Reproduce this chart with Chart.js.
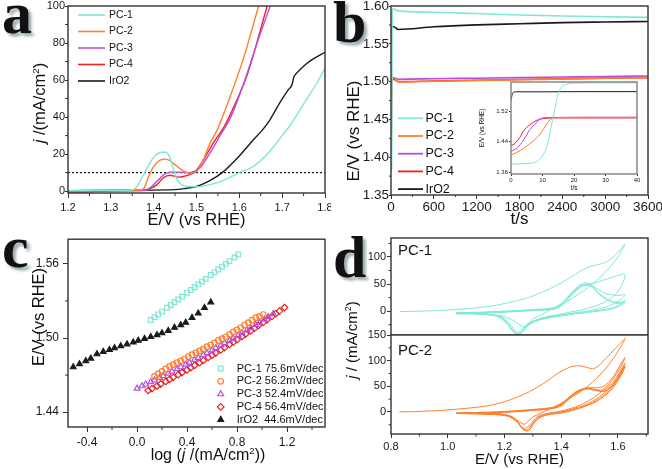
<!DOCTYPE html>
<html>
<head>
<meta charset="utf-8">
<title>OER catalysts: LSV, stability, Tafel and CV</title>
<script src="https://cdn.jsdelivr.net/npm/chart.js@4.4.1/dist/chart.umd.min.js"></script>
<style>
  body { margin: 0; background: #fff; }
  #fig { position: relative; width: 662px; height: 469px; overflow: hidden; font-family: 'Liberation Sans', Arial, sans-serif; color: #111; }
  #fig canvas { position: absolute; }
  .letter { position: absolute; font: bold 60px 'Liberation Serif', 'Times New Roman', serif; line-height: 1; color: #111; text-shadow: 3px 3px 3px rgba(110,130,140,.7); }
  .ytitle { position: absolute; white-space: nowrap; line-height: 1; transform: translate(-50%, -50%) rotate(-90deg); }
  .xtitle { position: absolute; white-space: nowrap; line-height: 1; transform: translate(-50%, -50%); }
  .tag { position: absolute; font-size: 15px; line-height: 1; }
  sup { font-size: 0.6em; vertical-align: 0.6em; line-height: 0; }
</style>
</head>
<body>
<div id="fig">
  <canvas id="chartA" width="331" height="234" style="left:0;top:0"></canvas>
  <canvas id="chartB" width="331" height="234" style="left:331px;top:0"></canvas>
  <canvas id="chartInset" width="164" height="118" style="left:478px;top:78px"></canvas>
  <canvas id="chartC" width="331" height="235" style="left:0;top:234px"></canvas>
  <canvas id="chartD1" width="331" height="101" style="left:331px;top:234px"></canvas>
  <canvas id="chartD2" width="331" height="144" style="left:331px;top:325px"></canvas>

  <div class="ytitle" style="left:39px;top:103px;font-size:16.5px"><i>j</i> /(mA/cm<sup>2</sup>)</div>
  <div class="ytitle" style="left:353px;top:131px;font-size:17px">E/V (vs RHE)</div>
  <div class="ytitle" style="left:38px;top:317px;font-size:16.5px">E/V (vs RHE)</div>
  <div class="xtitle" style="left:208px;top:455px;font-size:16px">log (<i>j</i> /(mA/cm<sup>2</sup>))</div>
  <div class="ytitle" style="left:351px;top:340px;font-size:15px"><i>j</i> / (mA/cm<sup>2</sup>)</div>
  <div class="tag" style="left:398px;top:242px">PC-1</div>
  <div class="tag" style="left:398px;top:342px">PC-2</div>

  <div class="letter" style="left:2px;top:-17px">a</div>
  <div class="letter" style="left:333px;top:-8px">b</div>
  <div class="letter" style="left:2px;top:217px">c</div>
  <div class="letter" style="left:333px;top:227px">d</div>
</div>
<script>
const FONT = "'Liberation Sans', Arial, sans-serif";
const CYAN = '#7de8d6', ORANGE = '#ff7f2a', PURPLE = '#b64ee0', RED = '#ee2222', BLACK = '#1a1a1a';
const names = ['PC-1', 'PC-2', 'PC-3', 'PC-4', 'IrO2'];
const colors = [CYAN, ORANGE, PURPLE, RED, BLACK];

// (a) polarization curves, [E / V vs RHE, j / mA cm-2]
const lsvPC1 = [[1.20,0.3],[1.30,0.4],[1.34,0.5],[1.356,1.2],[1.366,4.5],[1.376,8.7],[1.392,15.5],[1.405,19.5],[1.418,21],[1.428,21],[1.437,18.5],[1.445,13],[1.454,6.5],[1.466,3.4],[1.485,2.5],[1.50,2.4],[1.53,3.4],[1.56,5.5],[1.60,10],[1.63,13],[1.65,16.5],[1.68,24],[1.70,30],[1.72,36],[1.75,47],[1.78,58],[1.80,66.5]];
const lsvPC2 = [[1.20,0.2],[1.30,0.3],[1.36,0.5],[1.376,1.2],[1.388,7.8],[1.399,13],[1.415,16.7],[1.43,17.3],[1.446,15],[1.466,11.4],[1.485,9.6],[1.50,10.5],[1.516,17],[1.53,25],[1.55,34],[1.58,52],[1.61,72],[1.645,100]];
const lsvPC3 = [[1.20,0.2],[1.30,0.3],[1.38,0.5],[1.39,1.5],[1.407,5.2],[1.423,8.7],[1.438,10.3],[1.46,10.2],[1.48,10],[1.493,10.5],[1.508,12.5],[1.53,20],[1.555,30],[1.58,40],[1.61,58],[1.64,79],[1.672,100]];
const lsvPC4 = [[1.20,-0.5],[1.25,-0.4],[1.30,0.2],[1.38,0.4],[1.39,1.2],[1.407,3.4],[1.423,7.3],[1.438,8.6],[1.458,7.6],[1.477,8.4],[1.497,10.5],[1.516,16.7],[1.539,26],[1.565,35],[1.59,47],[1.62,64],[1.665,100]];
const lsvIrO2 = [[1.20,0.3],[1.35,0.5],[1.45,0.8],[1.477,1.6],[1.50,2.5],[1.53,5.5],[1.56,10],[1.60,19],[1.63,27],[1.65,32],[1.67,38],[1.695,48],[1.715,55],[1.722,57],[1.728,62],[1.735,64],[1.75,67.5],[1.77,71],[1.80,75]];
const lsvSeries = [lsvPC1, lsvPC2, lsvPC3, lsvPC4, lsvIrO2];
const lsvRange = [1.2, 1.8];
const lsvLevel = 10;

// (b) chronopotentiometry, [t / s, E / V vs RHE]; first 40 s (also the inset) and the long run
const cpStartPC1 = [[0,1.381],[3,1.382],[7,1.384],[9.2,1.395],[10.8,1.415],[11.8,1.44],[12.9,1.485],[14,1.531],[15,1.567],[16.1,1.585],[17.7,1.592],[21,1.595],[30,1.596],[40,1.596]];
const cpStartPC2 = [[0,1.405],[3,1.417],[5,1.429],[7,1.442],[9,1.458],[10.5,1.476],[12,1.495],[13,1.501],[15,1.504],[20,1.5045],[30,1.5045],[40,1.5045]];
const cpStartPC3 = [[0,1.415],[2,1.424],[4,1.445],[6,1.472],[8,1.49],[9,1.499],[11,1.504],[15,1.5045],[25,1.505],[40,1.505]];
const cpStartPC4 = [[0,1.431],[1,1.434],[3,1.454],[4,1.469],[6,1.485],[8,1.496],[10,1.501],[15,1.503],[25,1.503],[40,1.503]];
const cpStartIrO2 = [[0,1.55],[0.5,1.568],[1.5,1.572],[10,1.572],[20,1.5725],[40,1.5725]];
const cpLongPC1 = [[100,1.5935],[600,1.5918],[1200,1.590],[1800,1.588],[2400,1.5868],[3000,1.5858],[3600,1.585]];
const cpLongPC2 = [[100,1.4995],[600,1.5005],[1200,1.5015],[1800,1.5025],[2400,1.5035],[3000,1.5045],[3600,1.5052]];
const cpLongPC3 = [[100,1.5032],[600,1.5038],[1200,1.5045],[1800,1.5052],[2400,1.506],[3000,1.5068],[3600,1.5074]];
const cpLongPC4 = [[100,1.5],[600,1.5008],[1200,1.5018],[1800,1.5028],[2400,1.5037],[3000,1.5046],[3600,1.5053]];
const cpLongIrO2 = [[100,1.569],[600,1.5725],[1200,1.575],[1800,1.5765],[2400,1.578],[3000,1.5788],[3600,1.5795]];
const cpStart = [cpStartPC1, cpStartPC2, cpStartPC3, cpStartPC4, cpStartIrO2];
const cpLong = [cpLongPC1, cpLongPC2, cpLongPC3, cpLongPC4, cpLongIrO2];

// (c) Tafel plots, [log j, E / V vs RHE]
const tafelLabels = ['PC-1 75.6mV/dec', 'PC-2 56.2mV/dec', 'PC-3 52.4mV/dec', 'PC-4 56.4mV/dec', 'IrO2  44.6mV/dec'];
const tafelPC1 = [[0.11,1.5146],[0.14,1.5169],[0.17,1.5192],[0.20,1.5214],[0.24,1.5245],[0.27,1.5267],[0.30,1.5290],[0.33,1.5313],[0.36,1.5335],[0.40,1.5366],[0.43,1.5389],[0.46,1.5411],[0.49,1.5434],[0.52,1.5457],[0.55,1.5479],[0.59,1.5510],[0.62,1.5532],[0.65,1.5555],[0.68,1.5578],[0.71,1.5600],[0.74,1.5623],[0.78,1.5653],[0.81,1.5676]];
const tafelPC2 = [[0.14,1.469],[0.17,1.471],[0.20,1.473],[0.23,1.475],[0.26,1.477],[0.29,1.4785],[0.32,1.480],[0.35,1.4815],[0.38,1.483],[0.41,1.485],[0.44,1.4865],[0.47,1.488],[0.50,1.4895],[0.53,1.491],[0.56,1.493],[0.59,1.4945],[0.62,1.496],[0.65,1.498],[0.68,1.4995],[0.71,1.501],[0.74,1.503],[0.77,1.505],[0.80,1.5065],[0.83,1.5085],[0.86,1.5105],[0.89,1.5125],[0.92,1.5145],[0.95,1.5165],[0.98,1.5175],[1.01,1.519]];
const tafelPC3 = [[0.00,1.4592],[0.04,1.4611],[0.07,1.4625],[0.11,1.4644],[0.14,1.4659],[0.18,1.4679],[0.21,1.4694],[0.25,1.4714],[0.28,1.4729],[0.32,1.4750],[0.35,1.4765],[0.39,1.4786],[0.42,1.4802],[0.46,1.4824],[0.49,1.4840],[0.53,1.4862],[0.56,1.4878],[0.60,1.4901],[0.63,1.4918],[0.67,1.4941],[0.70,1.4958],[0.74,1.4981],[0.77,1.4998],[0.81,1.5022],[0.84,1.5040],[0.88,1.5064],[0.91,1.5082],[0.95,1.5107],[0.98,1.5125],[1.02,1.5151],[1.05,1.5170],[1.09,1.5195]];
const tafelPC4 = [[0.09,1.4576],[0.12,1.4591],[0.16,1.4612],[0.19,1.4628],[0.23,1.4649],[0.26,1.4665],[0.29,1.4682],[0.33,1.4704],[0.36,1.4721],[0.40,1.4743],[0.43,1.4760],[0.46,1.4778],[0.50,1.4801],[0.53,1.4819],[0.57,1.4843],[0.60,1.4861],[0.63,1.4879],[0.67,1.4904],[0.70,1.4923],[0.74,1.4948],[0.77,1.4967],[0.80,1.4987],[0.84,1.5013],[0.87,1.5033],[0.91,1.5059],[0.94,1.5080],[0.97,1.5100],[1.01,1.5127],[1.04,1.5148],[1.08,1.5176],[1.11,1.5197],[1.14,1.5218],[1.18,1.5247]];
const tafelIrO2 = [[-0.51,1.4765],[-0.46,1.4790],[-0.41,1.4815],[-0.37,1.4835],[-0.32,1.4870],[-0.27,1.4890],[-0.22,1.4905],[-0.18,1.4920],[-0.13,1.4935],[-0.08,1.4950],[-0.03,1.4965],[0.01,1.4980],[0.06,1.4995],[0.11,1.5010],[0.16,1.5025],[0.20,1.5040],[0.25,1.5060],[0.30,1.5085],[0.35,1.5105],[0.39,1.5125],[0.44,1.5165],[0.49,1.5200],[0.54,1.5245],[0.59,1.5290]];
const tafelSeries = [tafelPC1, tafelPC2, tafelPC3, tafelPC4, tafelIrO2];
const tafelMarkers = ['rect', 'circle', 'triangle', 'rectRot', 'triangle'];

// (d) cyclic voltammograms, [E / V vs RHE, j / mA cm-2]
const cvPC1 = [
  [[0.83,-1],[0.9,0],[1.0,2],[1.1,6],[1.15,9],[1.2,14],[1.25,20],[1.3,28],[1.35,39],[1.4,52],[1.45,68],[1.49,80],[1.53,86],[1.56,91],[1.59,103],[1.625,124],[1.6,100],[1.57,80],[1.54,64],[1.51,50],[1.48,38],[1.44,24],[1.4,12],[1.36,2],[1.33,-7],[1.3,-14],[1.28,-26],[1.27,-29],[1.25,-24],[1.22,-14],[1.18,-8],[1.1,-5],[1.03,-4]],
  [[1.03,-3],[1.1,-2],[1.2,0],[1.3,3],[1.37,6],[1.4,14],[1.43,30],[1.46,44],[1.48,48],[1.5,50],[1.53,54],[1.56,59],[1.59,64],[1.625,68],[1.61,45],[1.59,30],[1.55,16],[1.5,6],[1.45,0],[1.4,-5],[1.35,-10],[1.31,-16],[1.28,-24],[1.26,-34],[1.245,-40],[1.23,-36],[1.21,-22],[1.18,-10],[1.14,-6],[1.08,-4],[1.03,-4]],
  [[1.03,-4],[1.1,-3],[1.2,-1],[1.3,2],[1.37,5],[1.4,13],[1.43,30],[1.46,46],[1.48,52],[1.5,50],[1.53,40],[1.56,32],[1.6,29],[1.625,30],[1.6,18],[1.56,8],[1.5,1],[1.45,-3],[1.4,-7],[1.35,-12],[1.31,-17],[1.28,-26],[1.26,-37],[1.245,-43],[1.23,-38],[1.21,-24],[1.18,-11],[1.14,-6],[1.08,-4],[1.03,-4]],
  [[1.03,-4],[1.1,-3],[1.2,-1],[1.3,2],[1.38,5],[1.41,16],[1.44,33],[1.47,47],[1.49,50],[1.51,45],[1.54,30],[1.57,20],[1.6,16],[1.625,19],[1.6,10],[1.56,4],[1.5,-1],[1.45,-4],[1.4,-8],[1.35,-12],[1.31,-18],[1.28,-27],[1.265,-36],[1.25,-42],[1.235,-38],[1.215,-25],[1.19,-12],[1.15,-6],[1.08,-4],[1.03,-4]],
  [[1.03,-5],[1.1,-4],[1.2,-2],[1.3,1],[1.38,4],[1.41,14],[1.44,31],[1.47,45],[1.49,48],[1.51,44],[1.54,28],[1.57,19],[1.6,14],[1.625,16],[1.6,8],[1.56,2],[1.5,-2],[1.45,-5],[1.4,-9],[1.35,-13],[1.31,-19],[1.28,-28],[1.27,-36],[1.255,-41],[1.24,-37],[1.22,-24],[1.19,-11],[1.15,-7],[1.08,-5],[1.03,-5]]
];
const cvPC2 = [
  [[0.83,0],[0.9,1],[1.0,4],[1.1,9],[1.15,13],[1.2,20],[1.25,30],[1.3,43],[1.35,60],[1.39,76],[1.43,87],[1.46,90],[1.49,87],[1.51,84],[1.53,89],[1.56,106],[1.59,123],[1.625,143],[1.6,118],[1.57,94],[1.54,74],[1.51,58],[1.48,44],[1.44,30],[1.4,17],[1.36,6],[1.33,-2],[1.3,-10],[1.28,-20],[1.27,-24],[1.25,-18],[1.22,-8],[1.18,-4],[1.1,-3],[1.03,-2]],
  [[1.03,-2],[1.1,-1],[1.2,1],[1.3,5],[1.37,9],[1.4,16],[1.43,30],[1.46,42],[1.49,47],[1.52,47],[1.55,50],[1.58,66],[1.6,84],[1.625,106],[1.61,88],[1.58,62],[1.55,44],[1.52,30],[1.48,17],[1.44,8],[1.4,2],[1.35,-3],[1.32,-8],[1.3,-18],[1.285,-28],[1.27,-32],[1.255,-26],[1.235,-12],[1.2,-5],[1.12,-3],[1.03,-3]],
  [[1.03,-3],[1.1,-2],[1.2,0],[1.3,4],[1.37,8],[1.4,15],[1.43,29],[1.46,41],[1.49,46],[1.52,44],[1.55,43],[1.58,56],[1.6,72],[1.625,95],[1.61,78],[1.58,52],[1.55,36],[1.52,24],[1.48,13],[1.44,6],[1.4,0],[1.35,-4],[1.32,-10],[1.3,-22],[1.285,-32],[1.275,-35],[1.26,-30],[1.24,-15],[1.2,-6],[1.12,-3],[1.03,-3]],
  [[1.03,-3],[1.1,-2],[1.2,0],[1.3,3],[1.37,7],[1.4,13],[1.43,27],[1.46,40],[1.49,45],[1.52,42],[1.55,40],[1.58,52],[1.6,68],[1.625,90],[1.61,74],[1.58,48],[1.55,32],[1.52,21],[1.48,11],[1.44,4],[1.4,-1],[1.35,-5],[1.32,-12],[1.3,-24],[1.29,-33],[1.28,-37],[1.265,-33],[1.245,-18],[1.21,-7],[1.12,-4],[1.03,-3]],
  [[1.03,-3],[1.1,-2],[1.2,-1],[1.3,3],[1.37,7],[1.4,12],[1.43,26],[1.46,39],[1.49,45],[1.52,43],[1.55,40],[1.58,50],[1.6,64],[1.625,88],[1.61,70],[1.58,45],[1.55,30],[1.52,19],[1.48,10],[1.44,3],[1.4,-2],[1.35,-6],[1.32,-13],[1.3,-25],[1.29,-34],[1.28,-37],[1.265,-34],[1.245,-20],[1.21,-8],[1.12,-4],[1.03,-3]]
];

function xy(points) {
  return points.map(p => ({ x: p[0], y: p[1] }));
}

// box frame, optional white fill and short minor ticks between the major ones
const framePlugin = {
  id: 'frame',
  beforeDatasetsDraw(chart, args, opts) {
    if (!opts.fill) return;
    const a = chart.chartArea;
    chart.ctx.save();
    chart.ctx.fillStyle = opts.fill;
    chart.ctx.fillRect(a.left, a.top, a.right - a.left, a.bottom - a.top);
    chart.ctx.restore();
  },
  afterDraw(chart, args, opts) {
    const { ctx, chartArea: a } = chart;
    ctx.save();
    ctx.strokeStyle = opts.color || '#333';
    ctx.lineWidth = opts.width || 1.4;
    ctx.strokeRect(a.left, a.top, a.right - a.left, a.bottom - a.top);
    if (opts.minor) {
      ctx.lineWidth = 1;
      ctx.beginPath();
      ['x', 'y'].forEach(id => {
        const s = chart.scales[id];
        if (!s || !s.options.display || s.ticks.length < 2) return;
        const vals = s.ticks.map(t => t.value);
        const half = (vals[1] - vals[0]) / 2;
        const mids = [vals[0] - half].concat(vals.map(v => v + half));
        mids.forEach(v => {
          if (v < s.min || v > s.max) return;
          const p = s.getPixelForValue(v);
          if (id === 'x') { ctx.moveTo(p, a.bottom); ctx.lineTo(p, a.bottom + opts.minor); }
          else { ctx.moveTo(a.left, p); ctx.lineTo(a.left - opts.minor, p); }
        });
      });
      ctx.stroke();
    }
    ctx.restore();
  }
};

// legend drawn inside the plot area
const keyPlugin = {
  id: 'key',
  afterDraw(chart, args, o) {
    if (!o.show) return;
    const { ctx, chartArea: a } = chart;
    ctx.save();
    ctx.font = o.font;
    ctx.textBaseline = 'middle';
    let row = 0;
    chart.data.datasets.forEach(ds => {
      if (!ds.label) return;
      const x = a.left + o.x;
      const y = a.top + o.y + row * o.row;
      row++;
      if (o.marker) {
        ctx.strokeStyle = ds.borderColor;
        ctx.fillStyle = ds.pointBackgroundColor;
        ctx.lineWidth = ds.pointBorderWidth;
        Chart.helpers.drawPoint(ctx, { pointStyle: ds.pointStyle, radius: ds.pointRadius, rotation: 0, borderWidth: ds.pointBorderWidth }, x, y);
        ctx.fillStyle = '#111';
        ctx.fillText(ds.label, x + o.gap, y);
      } else {
        ctx.strokeStyle = ds.borderColor;
        ctx.lineWidth = ds.borderWidth + 0.2;
        ctx.beginPath();
        ctx.moveTo(x, y);
        ctx.lineTo(x + o.len, y);
        ctx.stroke();
        ctx.fillStyle = '#111';
        ctx.fillText(ds.label, x + o.len + o.gap, y);
      }
    });
    ctx.restore();
  }
};

function axis(o) {
  return {
    type: 'linear',
    display: o.display !== false,
    min: o.min,
    max: o.max,
    ticks: {
      stepSize: o.step,
      includeBounds: false,
      autoSkip: false,
      maxRotation: 0,
      padding: o.pad,
      color: '#1a1a1a',
      font: { family: FONT, size: o.font },
      callback: v => v.toFixed(o.dec)
    },
    grid: { drawOnChartArea: false, drawTicks: true, tickLength: o.tick, tickColor: '#333', tickWidth: 1 },
    border: { display: false },
    title: o.title
      ? { display: true, text: o.title, color: '#111', font: { family: FONT, size: o.tfont }, padding: { top: 0, bottom: o.tpad } }
      : { display: false },
    afterFit(s) {
      if (s.isHorizontal()) s.height = o.size; else s.width = o.size;
      s.paddingLeft = 0; s.paddingRight = 0; s.paddingTop = 0; s.paddingBottom = 0;
    }
  };
}

function build(id, cfg) {
  return new Chart(document.getElementById(id), {
    type: 'scatter',
    data: { datasets: cfg.datasets },
    options: {
      responsive: false,
      animation: false,
      events: [],
      layout: { padding: cfg.padding },
      scales: { x: axis(cfg.x), y: axis(cfg.y) },
      plugins: {
        legend: { display: false },
        tooltip: { enabled: false },
        frame: cfg.frame || {},
        key: cfg.key || { show: false }
      }
    },
    plugins: [framePlugin, keyPlugin]
  });
}

// smooth curve through points whose x only grows
function trace(points, color, width, label) {
  return { label: label, data: xy(points), showLine: true, borderColor: color, borderWidth: width, pointRadius: 0, cubicInterpolationMode: 'monotone' };
}

// closed voltammetric loop (x goes back and forth)
function loop(points, color) {
  return { data: xy(points), showLine: true, borderColor: color, borderWidth: 1, pointRadius: 0, tension: 0.3 };
}

// (a)
const lsvSets = lsvSeries.map((pts, i) => trace(pts, colors[i], 1.4, names[i]));
lsvSets.push({ data: xy([[lsvRange[0], lsvLevel], [lsvRange[1], lsvLevel]]), showLine: true, borderColor: '#111', borderWidth: 1.2, borderDash: [2, 2], pointRadius: 0 });
build('chartA', {
  datasets: lsvSets,
  padding: { left: 0, top: 6, right: 6, bottom: 0 },
  x: { min: lsvRange[0], max: lsvRange[1], step: 0.1, dec: 1, font: 11, size: 41, tick: 5, pad: 3, title: 'E/V (vs RHE)', tfont: 16.5, tpad: 4 },
  y: { min: -1, max: 100, step: 20, dec: 0, font: 11, size: 68, tick: 3, pad: 0 },
  frame: { minor: 3 },
  key: { show: true, x: 10, y: 9, row: 16.5, len: 27, gap: 4, font: '10.5px ' + FONT }
});

// (b)
build('chartB', {
  datasets: cpStart.map((pts, i) => trace(pts.concat(cpLong[i]), colors[i], 1.6, names[i])),
  padding: { left: 0, top: 6, right: 14, bottom: 0 },
  x: { min: 0, max: 3600, step: 600, dec: 0, font: 13.5, size: 39, tick: 4, pad: 0, title: 't/s', tfont: 17, tpad: 4 },
  y: { min: 1.35, max: 1.6, step: 0.05, dec: 2, font: 13.5, size: 60, tick: 2, pad: 0 },
  frame: { minor: 2 },
  key: { show: true, x: 7, y: 112.3, row: 17.7, len: 25, gap: 2.5, font: '12.5px ' + FONT }
});

build('chartInset', {
  datasets: cpStart.map((pts, i) => trace(pts, colors[i], 1)),
  padding: { left: 0, top: 4, right: 5, bottom: 0 },
  x: { min: 0, max: 40, step: 10, dec: 0, font: 6, size: 22, tick: 2, pad: 1, title: 't/s', tfont: 6.5, tpad: 4 },
  y: { min: 1.355, max: 1.598, step: 0.08, dec: 2, font: 6, size: 33, tick: 2, pad: 1, title: 'E/V (vs RHE)', tfont: 6.5, tpad: 1 },
  frame: { fill: '#fff', color: '#888', width: 1.5 }
});

// (c)
build('chartC', {
  datasets: tafelSeries.map((pts, i) => ({
    label: tafelLabels[i],
    data: xy(pts),
    showLine: false,
    pointStyle: tafelMarkers[i],
    pointRadius: i === 1 ? 2.8 : 3.3,
    pointBorderWidth: 1.2,
    borderColor: colors[i],
    backgroundColor: colors[i],
    pointBackgroundColor: i === 4 ? BLACK : 'rgba(0,0,0,0)'
  })),
  padding: { left: 0, top: 4, right: 6, bottom: 0 },
  x: { min: -0.552, max: 1.504, step: 0.4, dec: 1, font: 12, size: 42, tick: 5, pad: 3 },
  y: { min: 1.428, max: 1.58, step: 0.06, dec: 2, font: 12, size: 68, tick: 5, pad: 4 },
  frame: { minor: 3 },
  key: { show: true, marker: true, x: 152.7, y: 129.3, row: 12.8, gap: 16, font: '11px ' + FONT }
});

// (d)
build('chartD1', {
  datasets: cvPC1.map(pts => loop(pts, CYAN)),
  padding: { left: 0, top: 4, right: 14, bottom: 0 },
  x: { display: false, min: 0.8, max: 1.706, step: 0.2, dec: 1, font: 11, size: 0, tick: 4, pad: 2 },
  y: { min: -44, max: 135, step: 50, dec: 0, font: 11, size: 60, tick: 4, pad: 1 },
  frame: { minor: 2.5 }
});
build('chartD2', {
  datasets: cvPC2.map(pts => loop(pts, ORANGE)),
  padding: { left: 0, top: 10, right: 14, bottom: 0 },
  x: { min: 0.8, max: 1.706, step: 0.2, dec: 1, font: 11, size: 35, tick: 4, pad: 2, title: 'E/V (vs RHE)', tfont: 15, tpad: 0 },
  y: { min: -43, max: 150, step: 50, dec: 0, font: 11, size: 60, tick: 4, pad: 1 },
  frame: { minor: 2.5 }
});
</script>
</body>
</html>
